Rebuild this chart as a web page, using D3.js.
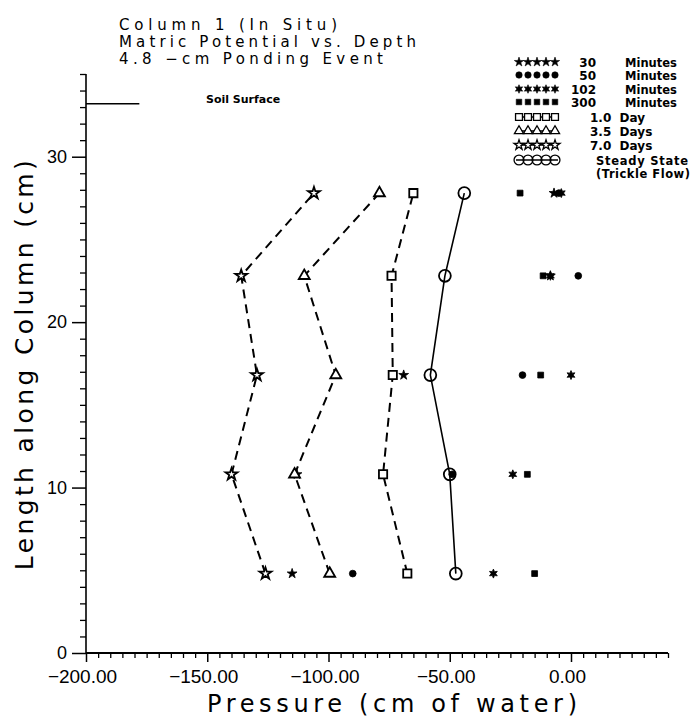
<!DOCTYPE html>
<html>
<head>
<meta charset="utf-8">
<title>Column 1 matric potential</title>
<script src="https://d3js.org/d3.v7.min.js"></script>
<style>
  body { margin: 0; background: #fff; }
  svg { display: block; background: #fff; font-family: "DejaVu Sans", sans-serif; }
  .bold { font-weight: bold; }
</style>
</head>
<body>
<svg width="696" height="723"></svg>
<script>
// depth of each tensiometer (cm along column)
var depths = [4.8, 10.8, 16.8, 22.8, 27.8];

// pressure readings (cm of water), one per depth
var min30  = [-115, -113, -69, -8.5, -7];
var min50  = [-90, -49, -20, 3, -5];
var min102 = [-32, -24, 0, -8.5, -4];
var min300 = [-15, -18, -12.5, -11.5, -21];
var day1   = [-67.5, -77.5, -73.5, -74, -65];
var day35  = [-99.5, -114, -97, -110, -79];
var day7   = [-126, -140, -129.5, -136, -106];
var steady = [-47.5, -50, -58, -52, -44];

var xTicks = [-200, -150, -100, -50, 0];
var yTicks = [0, 10, 20, 30];
var soilSurface = 33.2;

var titleLines = ["Column 1 (In Situ)", "Matric Potential vs. Depth", "4.8 \u2212cm Ponding Event"];

var svg = d3.select("svg");

var x = d3.scaleLinear().domain([-200, 40]).range([86, 668]),
    y = d3.scaleLinear().domain([0, 35]).range([653, 74]);

// custom six point star for the 102 minute readings
var star6 = {
  draw: function(ctx, size) {
    var r = Math.sqrt(size) * 0.75, ri = r * 0.5;
    for (var i = 0; i < 12; i++) {
      var a = Math.PI / 6 * i - Math.PI / 2, rr = i % 2 ? ri : r;
      if (i == 0) ctx.moveTo(rr * Math.cos(a), rr * Math.sin(a));
      else ctx.lineTo(rr * Math.cos(a), rr * Math.sin(a));
    }
    ctx.closePath();
  }
};

var series = [
  { name: "30", unit: "Minutes", vals: min30,  type: d3.symbolStar,     size: 30, fill: "#000", line: null },
  { name: "50", unit: "Minutes", vals: min50,  type: d3.symbolCircle,   size: 36, fill: "#000", line: null },
  { name: "102", unit: "Minutes", vals: min102, type: star6,           size: 36, fill: "#000", line: null },
  { name: "300", unit: "Minutes", vals: min300, type: d3.symbolSquare,  size: 34, fill: "#000", line: null },
  { name: "1.0", unit: "Day",   vals: day1,   type: d3.symbolSquare,   size: 68, fill: "#fff", line: "9,6" },
  { name: "3.5", unit: "Days",  vals: day35,  type: d3.symbolTriangle, size: 52, fill: "#fff", line: "9,6" },
  { name: "7.0", unit: "Days",  vals: day7,   type: d3.symbolStar,     size: 44, fill: "#fff", line: "9,6" },
  { name: "Steady State", unit: "(Trickle Flow)", vals: steady, type: d3.symbolCircle, size: 110, fill: "none", line: "solid" }
];

// axes
var xAxis = svg.append("g").attr("transform", "translate(0," + y(0) + ")")
  .call(d3.axisBottom(x).tickValues(xTicks).tickSize(9)
    .tickFormat(function(d) { return d3.format(".2f")(d).replace("-", "\u2212"); }));
xAxis.select(".domain").attr("stroke-width", 2.2).attr("d", "M" + x(-200) + ",0H" + x(40));
xAxis.selectAll("text").attr("font-size", 19).attr("dy", "0.95em").attr("dx", -4).attr("fill", "#000");
xAxis.selectAll("line").attr("stroke-width", 1.5);
svg.append("g").attr("transform", "translate(0," + y(0) + ")")
  .call(d3.axisBottom(x).tickValues(d3.range(-195, 41, 5).filter(function(d) { return d % 50 != 0; }))
    .tickSize(5).tickFormat(""))
  .call(function(g) { g.select(".domain").remove(); g.selectAll("line").attr("stroke-width", 1.3); });

var yAxis = svg.append("g").attr("transform", "translate(" + x(-200) + ",0)")
  .call(d3.axisLeft(y).tickValues(yTicks).tickSize(14).tickPadding(5));
yAxis.select(".domain").attr("stroke-width", 1.6).attr("d", "M0," + y(0) + "V" + y(35));
yAxis.selectAll("text").attr("font-size", 18).attr("fill", "#000");
yAxis.selectAll("line").attr("stroke-width", 1.5);
svg.append("g").attr("transform", "translate(" + x(-200) + ",0)")
  .call(d3.axisLeft(y).tickValues(d3.range(1, 36).filter(function(d) { return d % 10 != 0; }))
    .tickSize(6).tickFormat(""))
  .call(function(g) { g.select(".domain").remove(); g.selectAll("line").attr("stroke-width", 1.3); });

// axis titles
svg.append("text").attr("x", 392).attr("y", 712).attr("text-anchor", "middle")
  .attr("font-size", 24).attr("textLength", 370).text("Pressure (cm of water)");
svg.append("text").attr("transform", "translate(33," + y(17.4) + ") rotate(-90)")
  .attr("text-anchor", "middle").attr("font-size", 25).attr("textLength", 410)
  .text("Length along Column (cm)");

// title
var tw = [218, 297, 264];
svg.selectAll(".title").data(titleLines).enter().append("text")
  .attr("x", 119).attr("y", function(d, i) { return 30 + i * 17; })
  .attr("font-size", 15).attr("textLength", function(d, i) { return tw[i]; })
  .text(function(d) { return d; });

// soil surface marker
svg.append("line").attr("x1", x(-200)).attr("x2", x(-178)).attr("y1", y(soilSurface)).attr("y2", y(soilSurface))
  .attr("stroke", "#000").attr("stroke-width", 1.6);
svg.append("text").attr("class", "bold").attr("x", 206).attr("y", 103).attr("font-size", 11)
  .text("Soil Surface");

// profile lines
var line = d3.line().x(function(d) { return x(d[0]); }).y(function(d) { return y(d[1]); });
series.filter(function(s) { return s.line; }).forEach(function(s) {
  svg.append("path").datum(s.vals.map(function(v, i) { return [v, depths[i]]; }))
    .attr("d", line).attr("fill", "none").attr("stroke", "#000").attr("stroke-width", s.line == "solid" ? 1.6 : 2)
    .attr("stroke-dasharray", s.line == "solid" ? null : s.line);
});

// markers
series.forEach(function(s) {
  svg.append("g").selectAll("path").data(s.vals).enter().append("path")
    .attr("transform", function(d, i) { return "translate(" + x(d) + "," + y(depths[i]) + ")"; })
    .attr("d", d3.symbol().type(s.type).size(s.size))
    .attr("fill", s.fill).attr("stroke", "#000").attr("stroke-width", s.fill == "#000" ? 0.8 : 1.8);
});

// legend
var legY = [62, 75, 89, 102, 117, 131, 145, 160];
var leg = svg.append("g");
series.forEach(function(s, i) {
  var g = leg.append("g").attr("transform", "translate(0," + legY[i] + ")");
  if (s.line) g.append("line").attr("x1", 516).attr("x2", 558).attr("stroke", "#000").attr("stroke-width", 1.4);
  g.selectAll("path").data(d3.range(5)).enter().append("path")
    .attr("transform", function(d) { return "translate(" + (519 + d * 9) + ",0)"; })
    .attr("d", d3.symbol().type(s.type).size(s.fill == "#000" ? s.size * 0.9 : s.size * 0.7))
    .attr("fill", s.fill).attr("stroke", "#000").attr("stroke-width", s.fill == "#000" ? 0.6 : 1.3);
  if (i < 4) {
    g.append("text").attr("class", "bold").attr("x", 596).attr("y", 4.5).attr("text-anchor", "end")
      .attr("font-size", 12).text(s.name);
    g.append("text").attr("class", "bold").attr("x", 625).attr("y", 4.5).attr("font-size", 11.5).text(s.unit);
  } else if (i < 7) {
    g.append("text").attr("class", "bold").attr("x", 590).attr("y", 4.5).attr("font-size", 12)
      .text(s.name + "  " + s.unit).attr("xml:space", "preserve");
  } else {
    g.append("text").attr("class", "bold").attr("x", 596).attr("y", 4.5).attr("font-size", 11.5)
      .attr("textLength", 92).text(s.name);
    g.append("text").attr("class", "bold").attr("x", 596).attr("y", 17.5).attr("font-size", 11.5)
      .attr("textLength", 94).text(s.unit);
  }
});
</script>
</body>
</html>
